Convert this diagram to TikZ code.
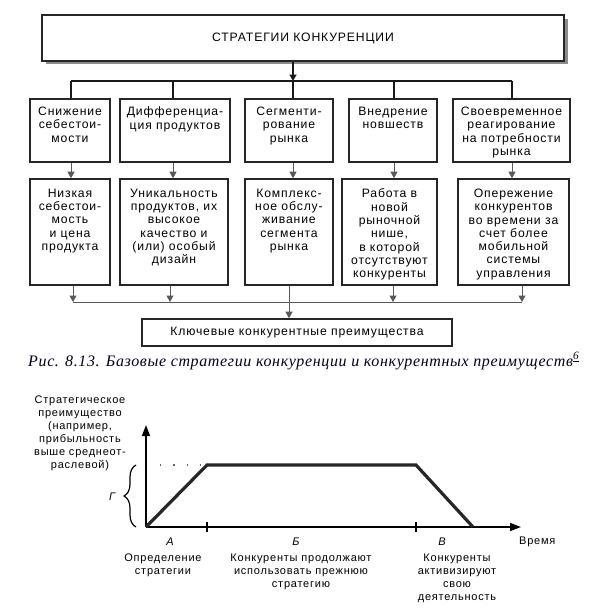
\documentclass[tikz,border=0pt]{standalone}
\usepackage{fontspec}
\setmainfont{Liberation Sans}[LetterSpace=7]
\newfontfamily\capfont{Liberation Serif}[LetterSpace=4]
\usetikzlibrary{arrows.meta,decorations.pathreplacing}
\newcommand\bxnode[7]{%
  \node[bx,minimum width={#4-#2},minimum height={#5-#3}] (#1) at ({(#2+#4)/2},{(#3+#5)/2}) {};
  \node[txt] (#1t) at ([yshift=-#6pt]#1.north) {#7};
}
\begin{document}
\begin{tikzpicture}[x=1pt,y=-1pt,
  bx/.style={draw=black!85,line width=1.6pt,inner sep=0pt},
  txt/.style={align=center,inner sep=0pt,anchor=north,font=\fontsize{12.2}{13.3}\selectfont},
  tree/.style={line width=1.8pt,black!90},
  thinl/.style={line width=1pt,black!65},
  tri/.style={-{Triangle[length=6.5pt,width=7pt]}},
  ax/.style={line width=1.4pt,-{Triangle[length=11pt,width=8pt]}},
  curve/.style={line width=3.2pt,black!85,line join=miter},
  lab/.style={align=center,inner sep=0pt,anchor=north,font=\fontsize{11}{13}\selectfont},
]
\useasboundingbox (0,0) rectangle (597,614);
% title
\fill[black!45] (46,19) rectangle (568,64);
\node[bx,fill=white,minimum width=522,minimum height=46,font=\fontsize{12.2}{14}\selectfont] (title) at (303,38) {СТРАТЕГИИ КОНКУРЕНЦИИ};
% row 1
\bxnode{s1}{30}{99}{110}{162}{8.5}{Снижение\\себестои-\\мости}
\bxnode{s2}{120}{99}{230}{162}{8.5}{Дифференциа-\\ция продуктов}
\bxnode{s3}{245}{99}{333}{162}{8.5}{Сегменти-\\рование\\рынка}
\bxnode{s4}{349}{99}{437}{162}{8.5}{Внедрение\\новшеств}
\bxnode{s5}{453}{99}{570}{162}{8.5}{Своевременное\\реагирование\\на потребности\\рынка}
% row 2
\bxnode{r1}{30}{179}{110}{285}{10.5}{Низкая\\себестои-\\мость\\и цена\\продукта}
\bxnode{r2}{120}{179}{228}{285}{10.5}{Уникальность\\продуктов, их\\высокое\\качество и\\(или) особый\\дизайн}
\bxnode{r3}{245}{179}{333}{285}{10.5}{Комплекс-\\ное обслу-\\живание\\сегмента\\рынка}
\bxnode{r4}{342}{179}{437}{285}{10.5}{Работа в\\новой\\рыночной\\нише,\\в которой\\отсутствуют\\конкуренты}
\bxnode{r5}{458}{179}{569}{285}{10.5}{Опережение\\конкурентов\\во времени за\\счет более\\мобильной\\системы\\управления}
% bottom box
\node[bx,minimum width=310,minimum height=27,font=\fontsize{12.2}{14}\selectfont] (bot) at (297,332.5) {Ключевые конкурентные преимущества};
% top tree
\coordinate (j1) at (293,81);
\coordinate (d1) at (71,81);
\coordinate (d2) at (173,81);
\coordinate (d4) at (394,81);
\coordinate (d5) at (512,81);
\draw[tree,tri] (title.south -| j1) -- (j1);
\draw[tree] (d1) -- (d5);
\draw[tree] (d1) -- (d1 |- s1.north);
\draw[tree] (d2) -- (d2 |- s2.north);
\draw[tree] (j1) -- (j1 |- s3.north);
\draw[tree] (d4) -- (d4 |- s4.north);
\draw[tree] (d5) -- (d5 |- s5.north);
% row1 -> row2
\draw[thinl,tri] (d1 |- s1.south) -- (d1 |- r1.north);
\draw[thinl,tri] (d2 |- s2.south) -- (d2 |- r2.north);
\draw[thinl,tri] (j1 |- s3.south) -- (j1 |- r3.north);
\draw[thinl,tri] (d4 |- s4.south) -- (d4 |- r4.north);
\draw[thinl,tri] (d5 |- s5.south) -- (d5 |- r5.north);
% row2 -> bottom
\coordinate (e1) at (73,302);
\coordinate (e2) at (170,302);
\coordinate (e3) at (289,302);
\coordinate (e4) at (393,302);
\coordinate (e5) at (522,302);
\draw[thinl] (e1) -- (e5);
\draw[thinl,tri] (e1 |- r1.south) -- (e1);
\draw[thinl,tri] (e2 |- r2.south) -- (e2);
\draw[thinl,tri] (e4 |- r4.south) -- (e4);
\draw[thinl,tri] (e5 |- r5.south) -- (e5);
\draw[thinl,tri] (e3 |- r3.south) -- (e3 |- bot.north);
% caption
\node[anchor=base west,inner sep=0pt,font=\capfont\itshape\fontsize{16}{18}\selectfont,text=black!90!blue] (cap) at (28,366) {Рис. 8.13. Базовые стратегии конкуренции и конкурентных преимуществ\textsuperscript{\underline{6}}};
% chart
\coordinate (O) at (146,527);
\coordinate (ytop) at (146,425);
\coordinate (xend) at (521,527);
\coordinate (p1) at (207,465);
\coordinate (p2) at (416,465);
\coordinate (p3) at (473,527);
\draw[ax] (O) -- (ytop);
\draw[ax] (O) -- (xend);
\draw[line width=1.4pt] (207,522) -- (207,532);
\draw[line width=1.4pt] (416,522) -- (416,532);
\draw[line width=1.2pt,dash pattern=on 1.2pt off 12.1pt,black!60] (160,465) -- (p1);
\draw[curve] (O) -- (p1) -- (p2) -- (p3);
\draw[line width=1.2pt,decorate,decoration={brace,amplitude=12pt}] (136,527) -- (136,465);
\node[font=\itshape\fontsize{11}{13}\selectfont,inner sep=0pt] (G) at (112,497) {Г};
\node[font=\itshape\fontsize{11}{13}\selectfont,inner sep=0pt] (A) at (170,542) {А};
\node[font=\itshape\fontsize{11}{13}\selectfont,inner sep=0pt] (B) at (296,542) {Б};
\node[font=\itshape\fontsize{11}{13}\selectfont,inner sep=0pt] (V) at (442,542) {В};
\node[anchor=west,inner sep=0pt,font=\fontsize{11}{13}\selectfont] (time) at (519,542) {Время};
\node[lab] (ylab) at (80,396) {Стратегическое\\преимущество\\(например,\\прибыльность\\выше среднеот-\\раслевой)};
\node[lab] (lA) at (163,554) {Определение\\стратегии};
\node[lab] (lB) at (301,554) {Конкуренты продолжают\\использовать прежнюю\\стратегию};
\node[lab] (lC) at (457,554) {Конкуренты\\активизируют\\свою\\деятельность};
\end{tikzpicture}
\end{document}
